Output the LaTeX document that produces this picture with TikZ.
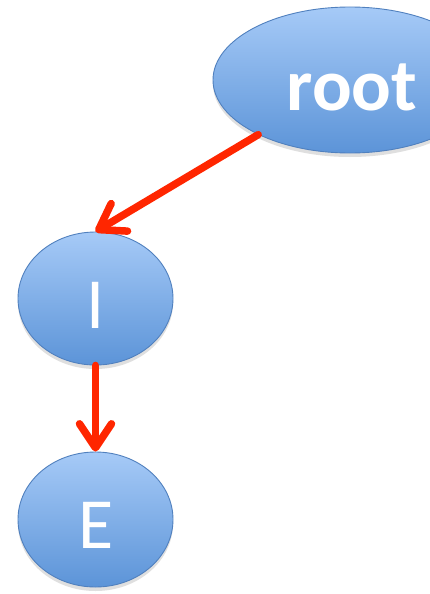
\documentclass[tikz,border=0pt]{standalone}
\usepackage{fontspec}
\newfontfamily\calib{Carlito}
\usetikzlibrary{shapes.geometric,arrows.meta,shadows}
\definecolor{arrowred}{RGB}{255,38,0}
\definecolor{toplight}{RGB}{166,202,247}
\definecolor{botdark}{RGB}{92,148,216}
\definecolor{rimblue}{RGB}{80,128,190}
\tikzset{
  bubble/.style={ellipse, draw=rimblue, line width=0.9pt, top color=toplight, bottom color=botdark,
    inner sep=0pt, text=white,
    drop shadow={opacity=0.25, shadow xshift=0pt, shadow yshift=-4pt}},
  link/.style={draw=arrowred, line width=7.5pt, line cap=round,
    -{Straight Barb[length=24pt,width=32pt,line width=7.5pt,round]}},
}
\begin{document}
\begin{tikzpicture}[x=1pt,y=-1pt]
\useasboundingbox[fill=white] (0,0) rectangle (429,594);
\node[bubble, minimum width=274pt, minimum height=146pt] (root) at (350,80) {};
\node[text=white, font=\calib\bfseries\fontsize{74}{74}\selectfont, anchor=base] (roottext) at (352,110) {root};
\node[bubble, minimum width=155pt, minimum height=133pt] (I) at (95.5,298.5) {};
\node[text=white, font=\calib\fontsize{72}{72}\selectfont, anchor=base] (Itext) at (95.5,328) {I};
\node[bubble, minimum width=155pt, minimum height=135pt] (E) at (95.5,519.5) {};
\node[text=white, font=\calib\fontsize{72}{72}\selectfont, anchor=base] (Etext) at (96,548) {E};
\draw[link] (root) -- (I.north);
\draw[link] (I.south) -- (E.north);
\end{tikzpicture}
\end{document}
